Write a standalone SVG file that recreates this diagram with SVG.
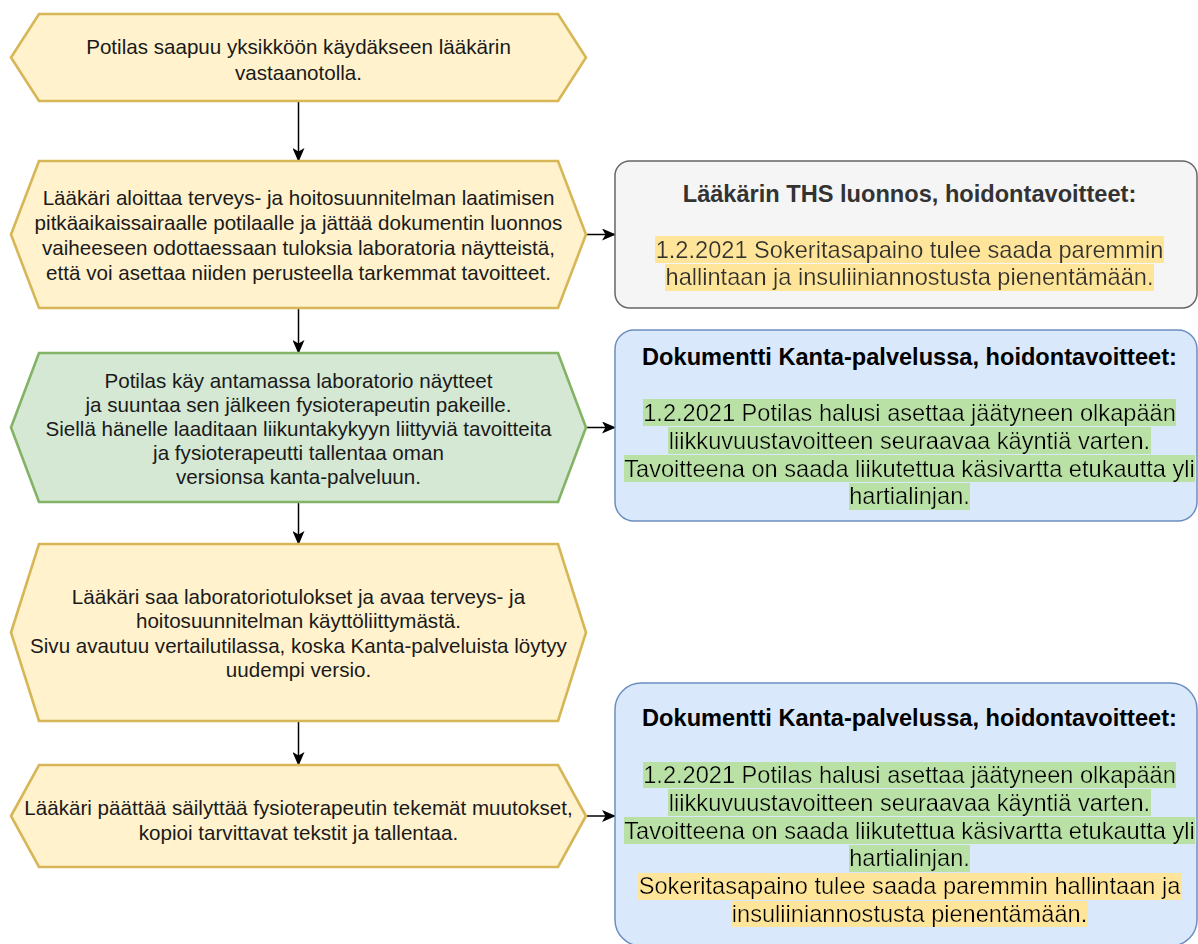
<svg xmlns="http://www.w3.org/2000/svg" width="1198" height="944" viewBox="0 0 1198 944">
  <style>
    .hex-y { fill: #FFF2CC; stroke: #D6B656; stroke-width: 2.6; stroke-linejoin: miter; }
    .hex-g { fill: #D5E8D4; stroke: #82B366; stroke-width: 2.6; stroke-linejoin: miter; }
    .box-gray { fill: #F5F5F5; stroke: #666666; stroke-width: 1.5; }
    .box-blue { fill: #DAE8FC; stroke: #6C8EBF; stroke-width: 1.5; }
    .step { font-family: "Liberation Sans", Arial, Helvetica, sans-serif; font-size: 20.6px; fill: #1A1A1A; text-anchor: middle; }
    .note { font-family: "Liberation Sans", Arial, Helvetica, sans-serif; font-size: 23.6px; fill: #000000; text-anchor: middle; }
    .note-gray { fill: #333333; }
    .title { font-weight: bold; }
    .mark-y { filter: url(#hl-yellow); }
    .mark-g { filter: url(#hl-green); }
    .edge { fill: none; stroke: #000000; stroke-width: 1.5; }
  </style>
  <defs>
    <marker id="arrow" viewBox="0 0 14 12" refX="13" refY="6" markerWidth="14" markerHeight="12" markerUnits="userSpaceOnUse" orient="auto">
      <path d="M0,0 L14,6 L0,12 L3.5,6 Z" fill="#000000"/>
    </marker>
    <!-- text highlight: flood the text's own box behind the glyphs -->
    <filter id="hl-yellow" x="0" y="0" width="1" height="1">
      <feFlood flood-color="#FFE599"/>
      <feComposite in="SourceGraphic" operator="over"/>
    </filter>
    <filter id="hl-green" x="0" y="0" width="1" height="1">
      <feFlood flood-color="#B9E0A5"/>
      <feComposite in="SourceGraphic" operator="over"/>
    </filter>
  </defs>

  <rect width="1198" height="944" fill="#FFFFFF"/>

  <!-- connectors -->
  <g id="connectors">
    <line class="edge" x1="298.5" y1="101" x2="298.5" y2="161" marker-end="url(#arrow)"/>
    <line class="edge" x1="298.5" y1="308" x2="298.5" y2="353" marker-end="url(#arrow)"/>
    <line class="edge" x1="298.5" y1="502" x2="298.5" y2="544" marker-end="url(#arrow)"/>
    <line class="edge" x1="298.5" y1="721" x2="298.5" y2="765" marker-end="url(#arrow)"/>
    <line class="edge" x1="586" y1="234.5" x2="615" y2="234.5" marker-end="url(#arrow)"/>
    <line class="edge" x1="586" y1="427.5" x2="615" y2="427.5" marker-end="url(#arrow)"/>
    <line class="edge" x1="586" y1="816" x2="615" y2="816" marker-end="url(#arrow)"/>
  </g>

  <!-- step 1 -->
  <g id="step-arrival">
    <polygon class="hex-y" points="11,57.5 39,14 558,14 586,57.5 558,101 39,101"/>
    <text class="step" x="298.5" y="53.5">Potilas saapuu yksikköön käydäkseen lääkärin</text>
    <text class="step" x="298.5" y="79.5">vastaanotolla.</text>
  </g>

  <!-- step 2 -->
  <g id="step-draft">
    <polygon class="hex-y" points="11,234.5 39,161 558,161 586,234.5 558,308 39,308"/>
    <text class="step" x="298.5" y="204.5">Lääkäri aloittaa terveys- ja hoitosuunnitelman laatimisen</text>
    <text class="step" x="298.5" y="229.5">pitkäaikaissairaalle potilaalle ja jättää dokumentin luonnos</text>
    <text class="step" x="298.5" y="254.5">vaiheeseen odottaessaan tuloksia laboratoria näytteistä,</text>
    <text class="step" x="298.5" y="279.5">että voi asettaa niiden perusteella tarkemmat tavoitteet.</text>
  </g>

  <!-- step 3 -->
  <g id="step-physio">
    <polygon class="hex-g" points="11,427.5 39,353 558,353 586,427.5 558,502 39,502"/>
    <text class="step" x="298.5" y="387.5">Potilas käy antamassa laboratorio näytteet</text>
    <text class="step" x="298.5" y="411.5">ja suuntaa sen jälkeen fysioterapeutin pakeille.</text>
    <text class="step" x="298.5" y="435.5">Siellä hänelle laaditaan liikuntakykyyn liittyviä tavoitteita</text>
    <text class="step" x="298.5" y="459.5">ja fysioterapeutti tallentaa oman</text>
    <text class="step" x="298.5" y="483.5">versionsa kanta-palveluun.</text>
  </g>

  <!-- step 4 -->
  <g id="step-compare">
    <polygon class="hex-y" points="11,632.5 39,544 558,544 586,632.5 558,721 39,721"/>
    <text class="step" x="298.5" y="603.5">Lääkäri saa laboratoriotulokset ja avaa terveys- ja</text>
    <text class="step" x="298.5" y="628">hoitosuunnitelman käyttöliittymästä.</text>
    <text class="step" x="298.5" y="652.5">Sivu avautuu vertailutilassa, koska Kanta-palveluista löytyy</text>
    <text class="step" x="298.5" y="677">uudempi versio.</text>
  </g>

  <!-- step 5 -->
  <g id="step-merge">
    <polygon class="hex-y" points="11,816 39,765 558,765 586,816 558,867 39,867"/>
    <text class="step" x="298.5" y="815">Lääkäri päättää säilyttää fysioterapeutin tekemät muutokset,</text>
    <text class="step" x="298.5" y="839.5">kopioi tarvittavat tekstit ja tallentaa.</text>
  </g>

  <!-- draft goals -->
  <g id="doc-draft">
    <rect class="box-gray" x="615" y="161" width="582" height="147" rx="14.7" ry="14.7"/>
    <text class="note note-gray title" x="909.5" y="202.3">Lääkärin THS luonnos, hoidontavoitteet:</text>
    <text class="note note-gray mark-y" x="909.5" y="257.5">1.2.2021 Sokeritasapaino tulee saada paremmin</text>
    <text class="note note-gray mark-y" x="909.5" y="285.3">hallintaan ja insuliiniannostusta pienentämään.</text>
  </g>

  <!-- Kanta document after physiotherapy -->
  <g id="doc-kanta">
    <rect class="box-blue" x="615" y="330" width="582" height="191" rx="19.1" ry="19.1"/>
    <text class="note title" x="909.5" y="365.3">Dokumentti Kanta-palvelussa, hoidontavoitteet:</text>
    <text class="note mark-g" x="909.5" y="420.9">1.2.2021 Potilas halusi asettaa jäätyneen olkapään</text>
    <text class="note mark-g" x="909.5" y="448.7">liikkuvuustavoitteen seuraavaa käyntiä varten.</text>
    <text class="note mark-g" x="909.5" y="476.5">Tavoitteena on saada liikutettua käsivartta etukautta yli</text>
    <text class="note mark-g" x="909.5" y="504.3">hartialinjan.</text>
  </g>

  <!-- merged Kanta document -->
  <g id="doc-merged">
    <rect class="box-blue" x="615" y="683" width="582" height="263" rx="26.3" ry="26.3"/>
    <text class="note title" x="909.5" y="726.1">Dokumentti Kanta-palvelussa, hoidontavoitteet:</text>
    <text class="note mark-g" x="909.5" y="783">1.2.2021 Potilas halusi asettaa jäätyneen olkapään</text>
    <text class="note mark-g" x="909.5" y="810.8">liikkuvuustavoitteen seuraavaa käyntiä varten.</text>
    <text class="note mark-g" x="909.5" y="838.6">Tavoitteena on saada liikutettua käsivartta etukautta yli</text>
    <text class="note mark-g" x="909.5" y="866.4">hartialinjan.</text>
    <text class="note mark-y" x="909.5" y="894.2">Sokeritasapaino tulee saada paremmin hallintaan ja</text>
    <text class="note mark-y" x="909.5" y="922">insuliiniannostusta pienentämään.</text>
  </g>
</svg>
